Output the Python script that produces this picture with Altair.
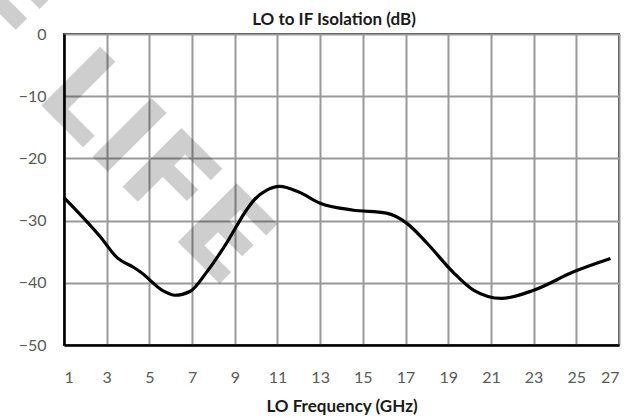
import altair as alt
import pandas as pd

# LO to IF isolation curve (GHz, dB)
freq_ghz = [1.0, 2.7, 3.5, 4.25, 4.6, 5.65, 6.2, 6.9, 7.7, 8.6, 9.55, 9.9, 10.5,
            11.1, 12.0, 13.0, 14.5, 16.1, 17.05, 18.0, 19.2, 20.2, 21.5, 23.0, 24.9, 26.6]
isolation_db = [-26.3, -32.6, -36.0, -37.5, -38.3, -41.3, -42.0, -41.4, -38.2, -33.7,
                -28.3, -26.7, -25.1, -24.5, -25.4, -27.2, -28.3, -28.8, -30.4, -33.6, -38.2,
                -41.2, -42.5, -41.2, -38.2, -36.1]

x_ticks = list(range(1, 28, 2))
y_ticks = [0, -10, -20, -30, -40, -50]

chart_title = ["LO to IF Isolation (dB)"]
watermark_head = ["END OF"]
watermark_tail = ["LIFE"]

FONT = "Lato"

df = pd.DataFrame({"freq": freq_ghz, "iso": isolation_db})

line = alt.Chart(df).mark_line(color="black", strokeWidth=3.2, interpolate="monotone").encode(
    x=alt.X("freq:Q",
            scale=alt.Scale(domain=[1, 27], nice=False, zero=False),
            axis=alt.Axis(values=x_ticks, title="LO Frequency (GHz)", ticks=False,
                          labelPadding=24, titlePadding=13, format="d")),
    y=alt.Y("iso:Q",
            scale=alt.Scale(domain=[-50, 0], nice=False, zero=False),
            axis=alt.Axis(values=y_ticks, title=None, ticks=False, labelPadding=18)),
)

# chart heading, drawn as a text mark above the plot area
heading = alt.Chart(pd.DataFrame({"t": chart_title})).mark_text(
    font=FONT, fontSize=17, fontWeight="bold", color="#1a1a1a", align="center", baseline="middle"
).encode(text="t:N", x=alt.value(270), y=alt.value(-14))

# diagonal "END OF LIFE" stamp
mark_style = dict(font="DejaVu Sans", fontWeight="bold", fontSize=114, angle=45,
                  baseline="alphabetic", color="black", opacity=0.19)

wm_tail = alt.Chart(pd.DataFrame({"t": watermark_tail})).mark_text(align="left", **mark_style).encode(
    text="t:N", x=alt.value(-30), y=alt.value(64))
wm_head = alt.Chart(pd.DataFrame({"t": watermark_head})).mark_text(align="right", **mark_style).encode(
    text="t:N", x=alt.value(-65), y=alt.value(29))

chart = alt.layer(line, heading, wm_head, wm_tail).properties(
    width=555, height=311,
    autosize=alt.AutoSizeParams(type="none"),
    padding={"left": 64, "top": 34, "right": 24, "bottom": 73},
).configure_view(
    stroke="#333333", strokeWidth=2
).configure_axis(
    gridColor="#999999", gridWidth=2, gridOpacity=1,
    domainColor="black", domainWidth=2.5,
    labelFont=FONT, labelFontSize=16, labelColor="#595959",
    titleFont=FONT, titleFontSize=17, titleFontWeight="bold", titleColor="#1a1a1a",
)

chart.save("out.html", embed_options={"renderer": "svg", "actions": False})
